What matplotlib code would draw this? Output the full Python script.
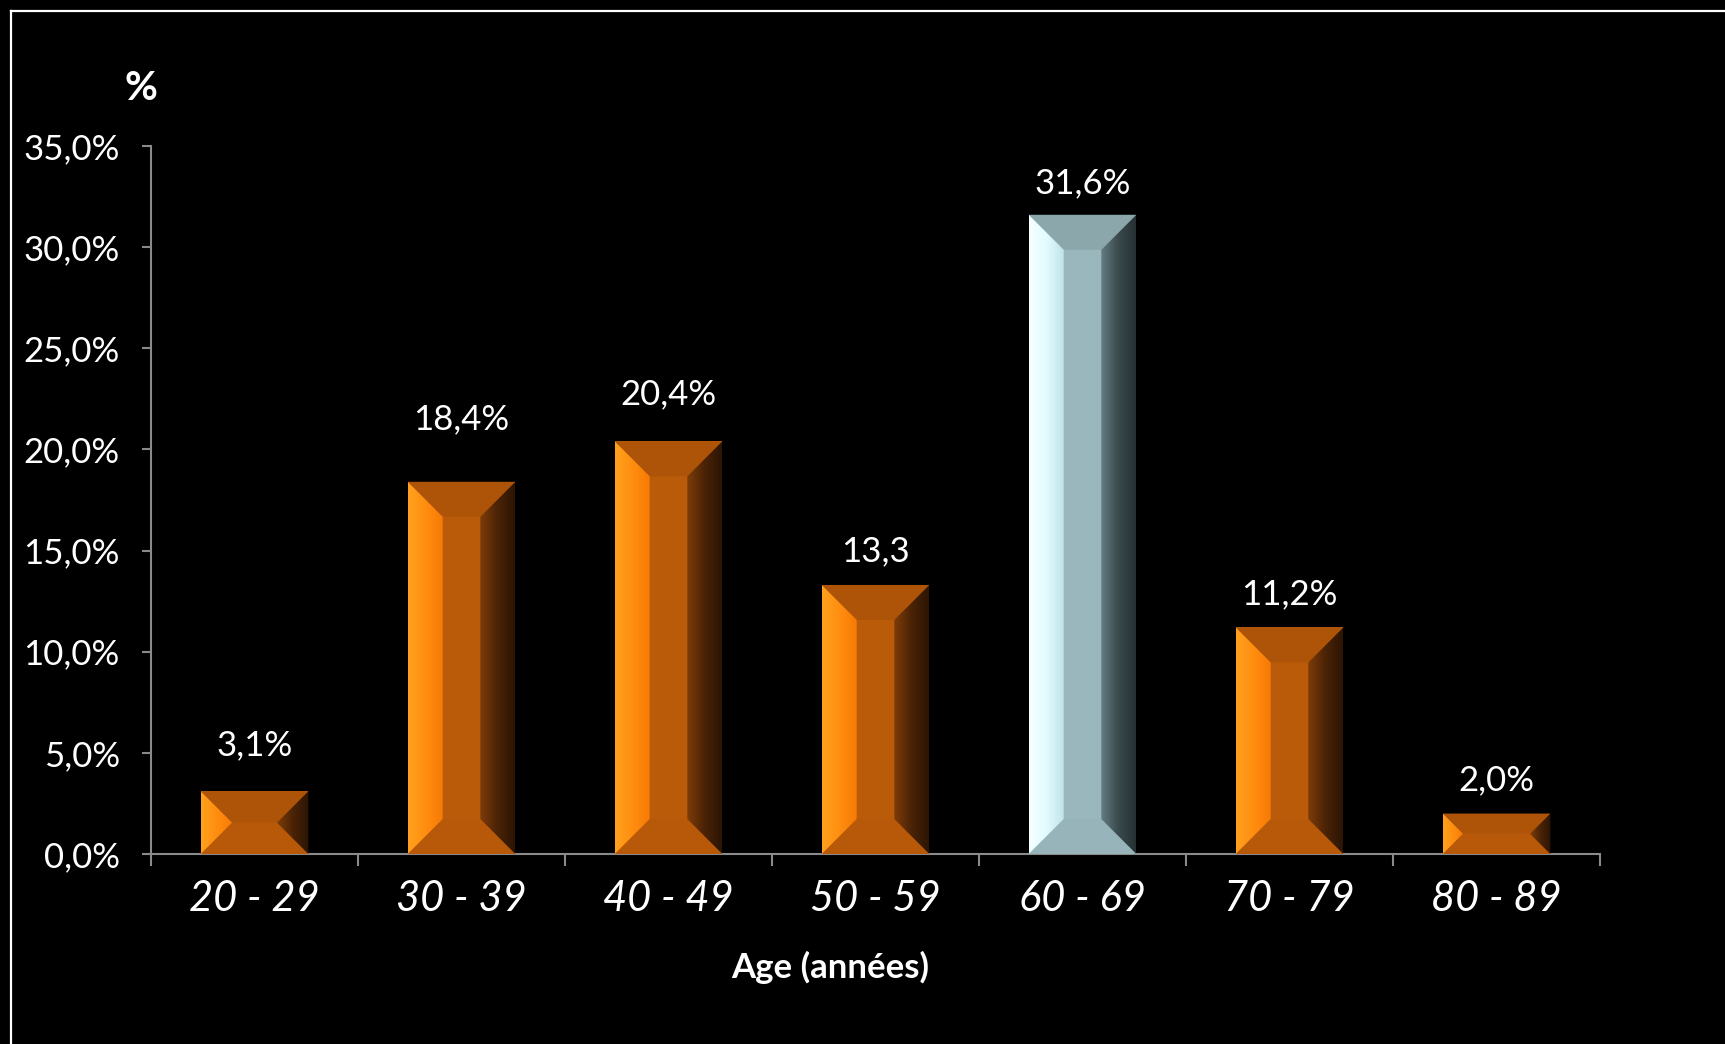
"""
Age distribution bar chart (bevelled bars on black background).
"""

import matplotlib

matplotlib.use("Agg")
import matplotlib.pyplot as plt
import numpy as np
from matplotlib.colors import LinearSegmentedColormap
from matplotlib.lines import Line2D
from matplotlib.patches import Polygon

age_groups = ["20 - 29", "30 - 39", "40 - 49", "50 - 59", "60 - 69", "70 - 79", "80 - 89"]
shares = [3.1, 18.4, 20.4, 13.3, 31.6, 11.2, 2.0]
value_labels = ["3,1%", "18,4%", "20,4%", "13,3", "31,6%", "11,2%", "2,0%"]
y_ticks = [0, 5, 10, 15, 20, 25, 30, 35]
y_tick_labels = ["0,0%", "5,0%", "10,0%", "15,0%", "20,0%", "25,0%", "30,0%", "35,0%"]
highlight = "60 - 69"

# gap between bar top and its value label (in % units), as placed on the slide
label_gap = [2.3, 3.1, 2.35, 1.65, 1.57, 1.63, 1.65]

ORANGE = {
    "face": "#BA5B0A",
    "top": "#AD5409",
    "bottom": "#B75909",
    "left": ["#FFA11E", "#FF8E10", "#F77A06"],
    "right": ["#7E3C08", "#4A2306", "#2C1504"],
}
GRAY = {
    "face": "#9AB7BD",
    "top": "#8CA7AC",
    "bottom": "#97B4BA",
    "left": ["#F6FFFF", "#E2FBFF", "#C0E4EA"],
    "right": ["#647C80", "#3A4A4D", "#263032"],
}
AXIS_GRAY = "#8a8a8a"
FONT = "Lato"
BEVEL_PX = 35


def gradient_fill(ax, verts, colors, extent):
    """fill a polygon with a horizontal colour gradient"""
    poly = Polygon(verts, closed=True, facecolor="none", edgecolor="none", zorder=3)
    ax.add_patch(poly)
    cmap = LinearSegmentedColormap.from_list("g", colors)
    grad = np.linspace(0, 1, 64)[None, :]
    im = ax.imshow(grad, cmap=cmap, extent=extent, aspect="auto",
                   interpolation="bilinear", zorder=3)
    im.set_clip_path(poly)


def bevel(ax, patch, pal, px_x, px_y):
    """draw the four bevel faces on top of a plain bar"""
    x0, y0 = patch.get_x(), patch.get_y()
    w, h = patch.get_width(), patch.get_height()
    x1, y1 = x0 + w, y0 + h
    b = min(BEVEL_PX, h / px_y / 2)
    bx, by = b * px_x, b * px_y

    top = [(x0, y1), (x1, y1), (x1 - bx, y1 - by), (x0 + bx, y1 - by)]
    bottom = [(x0, y0), (x1, y0), (x1 - bx, y0 + by), (x0 + bx, y0 + by)]
    left = [(x0, y0), (x0 + bx, y0 + by), (x0 + bx, y1 - by), (x0, y1)]
    right = [(x1, y0), (x1 - bx, y0 + by), (x1 - bx, y1 - by), (x1, y1)]

    ax.add_patch(Polygon(top, closed=True, facecolor=pal["top"], edgecolor="none", zorder=3))
    ax.add_patch(Polygon(bottom, closed=True, facecolor=pal["bottom"], edgecolor="none", zorder=3))
    gradient_fill(ax, left, pal["left"], (x0, x0 + bx, y0, y1))
    gradient_fill(ax, right, pal["right"], (x1 - bx, x1, y0, y1))


fig = plt.figure(figsize=(17.25, 10.44), dpi=100, facecolor="black")
ax = fig.add_axes([151 / 1725, 1 - 854 / 1044, 1449 / 1725, 708 / 1044])
ax.set_facecolor("black")

x = np.arange(len(age_groups))
colors = [GRAY["face"] if g == highlight else ORANGE["face"] for g in age_groups]
bars = ax.bar(x, shares, width=0.52, color=colors, zorder=2)

ax.set_xlim(-0.5, len(age_groups) - 0.5)
ax.set_ylim(0, 35)

fig.canvas.draw()
bbox = ax.get_window_extent()
px_x = len(age_groups) / bbox.width
px_y = 35 / bbox.height

for g, patch in zip(age_groups, bars):
    bevel(ax, patch, GRAY if g == highlight else ORANGE, px_x, px_y)

for i, (v, lbl) in enumerate(zip(shares, value_labels)):
    ax.text(i, v + label_gap[i], lbl, ha="center", va="center",
            color="white", fontsize=25, family=FONT, zorder=4)

ax.set_xlim(-0.5, len(age_groups) - 0.5)
ax.set_ylim(0, 35)

for side in ["top", "right"]:
    ax.spines[side].set_visible(False)
for side in ["left", "bottom"]:
    ax.spines[side].set_color(AXIS_GRAY)
    ax.spines[side].set_linewidth(1.5)

ax.set_yticks(y_ticks)
ax.set_yticklabels(y_tick_labels, family=FONT, fontsize=25, color="white")
ax.tick_params(axis="y", length=6.5, width=1.5, color=AXIS_GRAY, pad=16)

ax.set_xticks(x)
ax.set_xticklabels(age_groups, family=FONT, fontsize=30, style="italic", color="white")
ax.set_xticks(np.arange(len(age_groups) + 1) - 0.5, minor=True)
ax.tick_params(axis="x", which="major", length=0, pad=19)
ax.tick_params(axis="x", which="minor", length=8.6, width=1.5, color=AXIS_GRAY)

fig.text(830 / 1725, 1 - 967 / 1044, "Age (années)", ha="center", va="center",
         color="white", fontsize=25, fontweight="bold", family=FONT)
fig.text(141 / 1725, 1 - 88 / 1044, "%", ha="center", va="center",
         color="white", fontsize=29, fontweight="bold", family=FONT)

# slide frame (left and top edges only are visible)
fig.add_artist(Line2D([11 / 1725, 11 / 1725], [0, 1 - 11 / 1044], color="white", lw=1.6))
fig.add_artist(Line2D([11 / 1725, 1], [1 - 11 / 1044, 1 - 11 / 1044], color="white", lw=1.6))

fig.savefig("out.png", dpi=100, facecolor="black")
